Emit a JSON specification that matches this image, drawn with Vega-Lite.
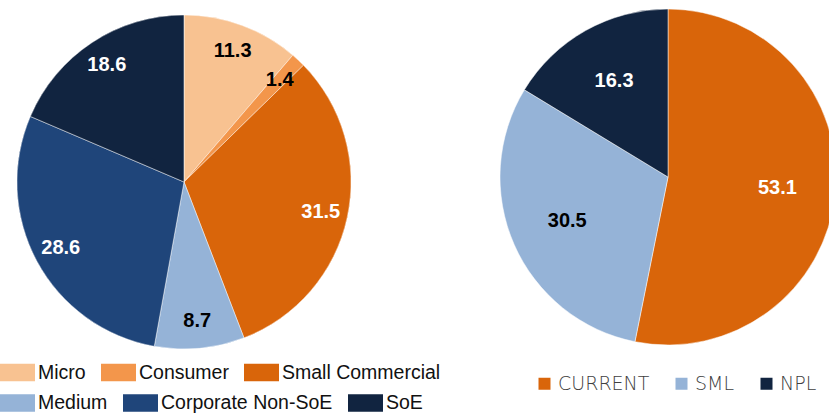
{
  "$schema": "https://vega.github.io/schema/vega-lite/v6.json",
  "padding": 0,
  "background": "white",
  "spacing": 132,
  "bounds": "flush",
  "config": {"view": {"stroke": null}},
  "datasets": {
    "segments": [
      {"segment": "Micro", "share": 11.3},
      {"segment": "Consumer", "share": 1.4},
      {"segment": "Small Commercial", "share": 31.5},
      {"segment": "Medium", "share": 8.7},
      {"segment": "Corporate Non-SoE", "share": 28.6},
      {"segment": "SoE", "share": 18.6}
    ],
    "status": [
      {"status": "CURRENT", "share": 53.1},
      {"status": "SML", "share": 30.5},
      {"status": "NPL", "share": 16.3}
    ]
  },
  "resolve": {"scale": {"color": "independent"}, "legend": {"color": "independent"}},
  "hconcat": [
    {
      "width": 368,
      "height": 364,
      "data": {"name": "segments"},
      "transform": [
        {"calculate": "indexof(['Micro','Consumer','Small Commercial','Medium','Corporate Non-SoE','SoE'], datum.segment)", "as": "seq"}
      ],
      "encoding": {
        "theta": {"field": "share", "type": "quantitative", "stack": true},
        "order": {"field": "seq", "type": "quantitative", "sort": "ascending"}
      },
      "layer": [
        {
          "mark": {"type": "arc", "outerRadius": 167},
          "encoding": {
            "color": {
              "field": "segment",
              "type": "nominal",
              "scale": {
                "domain": ["Micro", "Consumer", "Small Commercial", "Medium", "Corporate Non-SoE", "SoE"],
                "range": ["#F8C291", "#F3964B", "#D9650A", "#95B3D7", "#1F457A", "#112440"]
              },
              "legend": {
                "title": null,
                "values": ["Micro", "Consumer", "Small Commercial"],
                "orient": "none",
                "legendX": 0,
                "legendY": 355,
                "direction": "horizontal",
                "symbolType": "M-1,-0.5H1V0.5H-1Z",
                "symbolSize": 1225,
                "symbolStrokeWidth": 0,
                "symbolOpacity": 1,
                "labelFont": "Liberation Sans",
                "labelFontSize": 19.5,
                "labelColor": "#111111",
                "labelOffset": 3,
                "labelLimit": 300,
                "columnPadding": 15
              }
            }
          }
        },
        {
          "mark": {"type": "arc", "outerRadius": 167, "stroke": "white", "strokeWidth": 0.5},
          "encoding": {
            "fill": {
              "field": "segment",
              "type": "nominal",
              "scale": {
                "domain": ["Micro", "Consumer", "Small Commercial", "Medium", "Corporate Non-SoE", "SoE"],
                "range": ["#F8C291", "#F3964B", "#D9650A", "#95B3D7", "#1F457A", "#112440"]
              },
              "legend": {
                "title": null,
                "values": ["Medium", "Corporate Non-SoE", "SoE"],
                "orient": "none",
                "legendX": 0,
                "legendY": 385.5,
                "direction": "horizontal",
                "symbolType": "M-1,-0.5H1V0.5H-1Z",
                "symbolSize": 1225,
                "symbolStrokeWidth": 0,
                "symbolOpacity": 1,
                "labelFont": "Liberation Sans",
                "labelFontSize": 19.5,
                "labelColor": "#111111",
                "labelOffset": 3,
                "labelLimit": 300,
                "columnPadding": 15
              }
            }
          }
        },
        {
          "mark": {"type": "text", "radius": 140, "font": "Liberation Sans", "fontWeight": "bold", "fontSize": 20},
          "encoding": {
            "text": {"field": "share", "type": "quantitative", "format": ".1f"},
            "fill": {
              "condition": {"test": "indexof(['Micro','Consumer','Medium'], datum.segment) >= 0", "value": "#000000"},
              "value": "#ffffff"
            }
          }
        }
      ]
    },
    {
      "width": 336,
      "height": 354,
      "data": {"name": "status"},
      "transform": [
        {"calculate": "indexof(['CURRENT','SML','NPL'], datum.status)", "as": "seq"}
      ],
      "encoding": {
        "theta": {"field": "share", "type": "quantitative", "stack": true},
        "order": {"field": "seq", "type": "quantitative", "sort": "ascending"}
      },
      "layer": [
        {
          "mark": {"type": "arc", "outerRadius": 168, "stroke": "white", "strokeWidth": 0.5},
          "encoding": {
            "color": {
              "field": "status",
              "type": "nominal",
              "scale": {"domain": ["CURRENT", "SML", "NPL"], "range": ["#D9650A", "#95B3D7", "#112440"]},
              "legend": {
                "title": null,
                "orient": "none",
                "legendX": 35,
                "legendY": 374,
                "direction": "horizontal",
                "symbolType": "square",
                "symbolSize": 144,
                "symbolStrokeWidth": 0,
                "symbolOpacity": 1,
                "labelFont": "DejaVu Sans",
                "labelFontWeight": 200,
                "labelFontSize": 19,
                "labelColor": "#404040",
                "labelOffset": 4,
                "columnPadding": 22
              }
            }
          }
        },
        {
          "mark": {"type": "text", "radius": 110, "font": "Liberation Sans", "fontWeight": "bold", "fontSize": 20},
          "encoding": {
            "text": {"field": "share", "type": "quantitative", "format": ".1f"},
            "fill": {
              "condition": {"test": "datum.status === 'SML'", "value": "#000000"},
              "value": "#ffffff"
            }
          }
        }
      ]
    }
  ]
}
